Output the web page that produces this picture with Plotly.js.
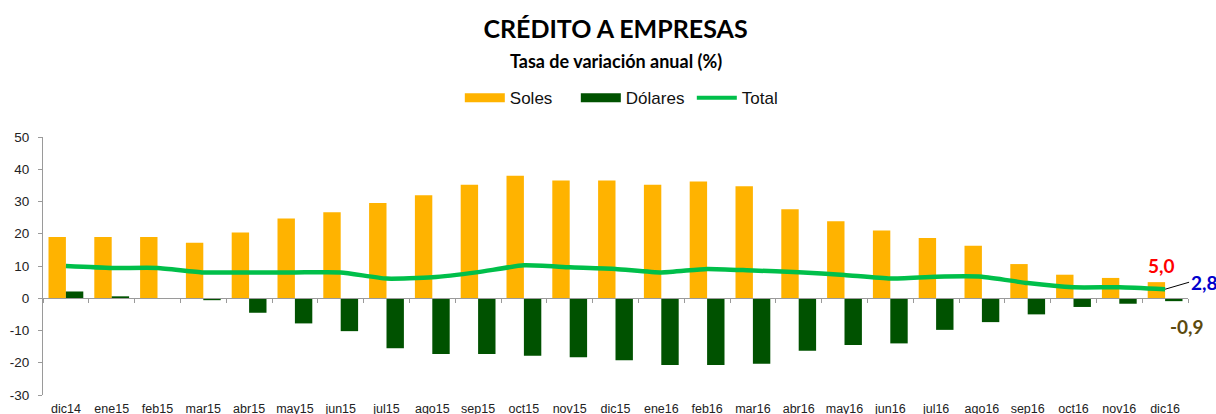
<!DOCTYPE html>
<html>
<head>
<meta charset="utf-8">
<script src="https://cdn.plot.ly/plotly-3.0.1.min.js"></script>
<style>html,body{margin:0;padding:0;background:#fff;}#chart{width:1216px;height:414px;}</style>
</head>
<body>
<div id="chart"></div>
<script>
var categories = ["dic14","ene15","feb15","mar15","abr15","may15","jun15","jul15","ago15","sep15","oct15","nov15","dic15","ene16","feb16","mar16","abr16","may16","jun16","jul16","ago16","sep16","oct16","nov16","dic16"];
var soles   = [19.0,19.0,19.0,17.2,20.4,24.7,26.7,29.5,31.9,35.2,38.0,36.5,36.5,35.2,36.2,34.7,27.6,23.9,21.0,18.7,16.3,10.6,7.3,6.3,5.0];
var dolares = [2.1,0.6,-0.2,-0.6,-4.5,-7.8,-10.2,-15.5,-17.3,-17.3,-17.8,-18.3,-19.2,-20.7,-20.7,-20.3,-16.3,-14.5,-14.0,-9.8,-7.4,-5.0,-2.7,-1.7,-0.9];
var total   = [10.0,9.4,9.4,8.0,8.0,8.0,8.0,6.1,6.5,8.1,10.2,9.6,9.1,8.0,9.1,8.6,8.1,7.2,6.1,6.7,6.7,4.7,3.4,3.4,2.8];
var yTicks = [-30,-20,-10,0,10,20,30,40,50];
var lastLabels = {soles:"5,0", dolares:"-0,9", total:"2,8"};

var cSoles = "#FFB300", cDol = "#005200", cTot = "#00BF4A";
var tickFont = {family:"Liberation Sans, Arial, sans-serif", size:12.5, color:"#222"};
var nCat = categories.length;

var traces = [
  {type:"bar", x:categories, y:soles, name:"Soles", marker:{color:cSoles}, showlegend:false, hoverinfo:"skip"},
  {type:"bar", x:categories, y:dolares, name:"Dólares", marker:{color:cDol}, showlegend:false, hoverinfo:"skip"},
  {type:"scatter", mode:"lines", x:categories, y:total, name:"Total", xaxis:"x2", line:{color:cTot, width:4.5, shape:"spline", smoothing:0.5}, showlegend:false, hoverinfo:"skip"},
  {type:"scatter", mode:"lines", x:[categories[0]], y:[null], name:"Soles", line:{color:cSoles, width:9}},
  {type:"scatter", mode:"lines", x:[categories[0]], y:[null], name:"Dólares", line:{color:cDol, width:9}},
  {type:"scatter", mode:"lines", x:[categories[0]], y:[null], name:"Total", line:{color:cTot, width:4}}
];

var last = categories[nCat-1];
var annFont = {family:"Lato, 'Open Sans', sans-serif", size:19};
var layout = {
  width:1216, height:414,
  margin:{l:43, r:28, t:137, b:19},
  paper_bgcolor:"#fff", plot_bgcolor:"#fff",
  barmode:"group", bargap:0.24, bargroupgap:0,
  hovermode:false,
  showlegend:true,
  legend:{orientation:"h", x:0.516, xanchor:"center", y:1.15, yanchor:"middle", entrywidth:61,
          font:{family:"Liberation Sans, Arial, sans-serif", size:17, color:"#111"}, itemwidth:40, traceorder:"normal"},
  xaxis:{type:"category", categoryarray:categories, categoryorder:"array", range:[-0.5, nCat-0.5], autorange:false,
         showline:false, ticks:"", showgrid:false, zeroline:false, automargin:false, ticklabelstandoff:4,
         tickfont:tickFont, fixedrange:true},
  xaxis2:{type:"category", overlaying:"x", matches:"x", anchor:"free", position:0.375, showline:true, linecolor:"#9a9a9a", linewidth:1.2,
          ticks:"outside", tickson:"boundaries", ticklen:4, tickcolor:"#9a9a9a", showticklabels:false, showgrid:false, zeroline:false, automargin:false},
  yaxis:{range:[-30,50], autorange:false, tickvals:yTicks, ticktext:yTicks.map(String), showline:true, linecolor:"#9a9a9a", linewidth:1,
         ticks:"outside", ticklen:4, tickcolor:"#9a9a9a", showgrid:false, zeroline:false, automargin:false, ticklabelstandoff:6,
         tickfont:{family:"Liberation Sans, Arial, sans-serif", size:13.5, color:"#222"}},
  title:{text:"<b>CRÉDITO A EMPRESAS</b>", x:0.5, xanchor:"center", y:0.93, yanchor:"middle", xref:"paper",
         font:{family:"Lato, 'Open Sans', sans-serif", size:25, color:"#000"}},
  annotations:[
    {text:"<b>Tasa de variación anual (%)</b>", xref:"paper", yref:"paper", x:0.5, y:1+ (137-61)/258, xanchor:"center", yanchor:"middle",
     showarrow:false, font:{family:"Lato, 'Open Sans', sans-serif", size:18, color:"#000"}},
    {text:"<b>"+lastLabels.soles+"</b>", x:last, y:soles[nCat-1], xref:"x", yref:"y", xshift:-4, yshift:3, yanchor:"bottom",
     showarrow:false, font:Object.assign({}, annFont, {color:"#FF0000"})},
    {text:"<b>"+lastLabels.total+"</b>", x:last, y:total[nCat-1], xref:"x", yref:"y", ax:24, ay:-7, axref:"pixel", ayref:"pixel",
     showarrow:true, arrowhead:0, arrowwidth:1, arrowcolor:"#000", xanchor:"left", standoff:0,
     font:Object.assign({}, annFont, {color:"#0000CC"})},
    {text:"<b>"+lastLabels.dolares+"</b>", x:last, y:dolares[nCat-1], xref:"x", yref:"y", xshift:22, yshift:-25,
     showarrow:false, font:Object.assign({}, annFont, {color:"#5C4A0E"})}
  ]
};
Plotly.newPlot("chart", traces, layout, {displayModeBar:false, staticPlot:true});
</script>
</body>
</html>
